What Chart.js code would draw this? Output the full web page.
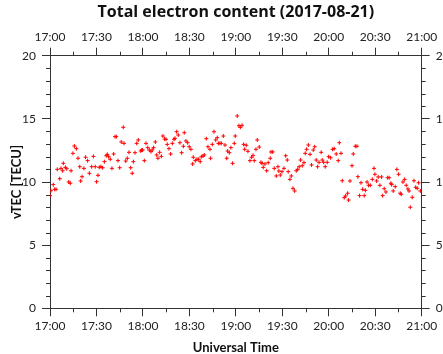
<!DOCTYPE html>
<html>
<head>
<meta charset="utf-8">
<script src="https://cdn.jsdelivr.net/npm/chart.js@4/dist/chart.umd.min.js"></script>
<style>
html,body{margin:0;padding:0;background:#fff;overflow:hidden}
#wrap{width:443px;height:354px;position:relative}
</style>
</head>
<body>
<div id="wrap"><canvas id="c" width="443" height="354"></canvas></div>
<script>
// minutes after 17:00 UT
const minutesAfter17 = [
0,0.6,2.1,3.0,3.9,4.7,6.3,7.1,8.2,8.6,
9.9,10.8,12.1,13.1,13.6,14.8,15.7,17.0,18.1,19.2,
19.8,20.7,21.9,23.0,24.3,25.4,26.9,28.0,29.2,30.1,
31.0,31.8,32.9,34.0,35.1,36.3,37.0,37.9,38.9,40.0,
41.1,42.0,42.8,43.9,45.0,46.0,47.3,47.8,48.9,49.9,
51.0,52.1,53.1,53.8,54.9,56.0,57.0,58.6,59.2,59.8,
60.9,62.0,63.1,64.1,65.2,66.0,66.9,68.0,68.9,69.7,
70.8,71.9,72.9,74.0,74.9,75.7,76.8,77.9,79.0,80.1,
80.7,81.8,82.8,83.9,85.0,86.1,86.7,87.8,88.9,89.9,
91.0,92.1,92.5,93.8,94.9,96.0,97.0,97.7,98.8,99.6,
100.9,102.0,103.3,103.7,104.8,105.9,107.0,108.0,108.7,109.7,
110.6,111.9,113.0,114.1,114.7,115.8,116.8,117.9,119.0,119.6,
120.9,122.0,122.9,124.0,125.0,125.7,126.7,127.8,129.1,130.2,
131.1,131.9,133.0,133.8,135.1,136.2,136.9,137.7,138.8,139.9,
140.9,142.2,142.7,143.8,144.8,146.1,147.2,147.8,148.7,149.8,
151.1,152.2,153.2,153.8,154.9,155.8,156.9,158.0,159.0,159.9,
160.9,161.8,162.9,164.0,164.8,165.7,166.8,167.9,168.9,170.0,
170.9,171.9,172.8,173.7,175.1,175.8,176.7,177.7,179.0,179.9,
181.2,182.5,183.5,184.8,186.1,186.8,187.9,188.7,190.0,190.9,
192.2,192.8,193.7,195.0,195.8,197.1,198.2,198.8,199.9,200.8,
201.9,202.9,203.6,204.7,205.7,206.8,208.1,209.2,209.8,210.9,
211.9,213.0,214.1,214.8,215.8,216.9,218.0,219.0,220.1,220.6,
221.6,222.9,224.0,225.1,226.1,226.8,227.9,229.0,230.0,231.1,
231.8,232.6,233.9,235.0,236.1,237.1,238.0,239.1
];
// vertical TEC [TECU]
const vtec = [
8.92,9.31,9.79,9.42,9.42,11.0,10.26,11.08,10.89,11.48,
11.16,11.05,10.0,9.90,10.89,12.27,12.85,12.64,11.88,11.21,
10.08,10.42,11.08,11.96,11.69,10.69,11.21,12.03,11.21,10.02,
10.53,11.16,11.21,11.13,11.61,12.08,12.19,12.0,11.80,11.08,
12.22,13.59,13.59,11.69,11.13,13.17,14.33,13.06,11.66,11.88,
12.35,11.13,10.69,11.61,12.32,13.06,13.33,12.45,12.53,12.53,
11.69,13.06,12.72,12.53,12.40,12.53,12.72,13.17,12.14,11.88,
12.35,12.03,13.64,13.40,13.38,12.98,12.64,12.22,13.06,13.38,
13.46,13.98,13.72,13.11,12.32,12.83,13.90,13.25,13.11,12.79,
12.59,11.43,11.96,11.69,11.80,11.80,11.61,12.0,12.06,12.14,
13.43,12.79,12.59,11.88,12.98,13.98,13.33,13.51,13.06,13.06,
13.06,13.64,12.93,11.88,12.45,12.32,12.72,11.48,13.06,13.64,
15.23,14.46,14.33,14.49,12.98,12.59,12.91,12.43,11.69,11.96,
12.11,11.69,12.59,13.33,12.77,11.56,11.48,11.16,11.43,10.89,
11.53,11.88,12.38,12.38,11.08,10.48,11.21,10.87,10.55,10.82,
11.08,12.08,11.74,10.82,10.21,10.48,9.50,9.29,10.89,11.0,
11.21,11.74,11.29,11.53,12.27,12.59,12.93,12.19,11.35,12.53,
12.79,11.74,11.21,11.56,12.35,11.74,11.56,11.21,11.56,12.0,
11.92,12.59,12.64,12.22,11.69,13.11,12.27,10.10,8.76,8.89,
9.11,8.57,10.08,11.29,12.22,12.83,12.83,10.42,8.92,9.94,
9.42,8.92,9.34,10.0,9.74,9.74,10.21,11.08,10.61,10.08,
10.40,9.74,10.40,8.92,9.47,9.21,10.34,10.34,9.90,9.79,
9.29,9.63,11.0,10.61,9.11,9.03,10.0,10.21,9.74,9.45,
9.29,8.0,8.79,10.10,9.58,9.50,9.94,9.29
];
const startHour = 17;
const timeRange = [0, 240];
const timeStep = 30;
const yRange = [0, 20];
const yStep = 5;
const titleText = 'Total electron content (2017-08-21)';
const xTitle = 'Universal Time';
const yTitle = 'vTEC [TECU]';

const FONT = 'Lato, "Open Sans", sans-serif';
const AX = '#333';

function fmt(v){
  const h = startHour + Math.floor(v/60);
  const m = Math.round(v%60);
  return h + ':' + String(m).padStart(2,'0');
}

const points = minutesAfter17.map((t,i)=>({x:t, y:vtec[i]}));

const minorTicks = {
  id:'minorTicks',
  afterDraw(chart){
    const ctx = chart.ctx;
    ctx.save();
    ctx.strokeStyle = AX;
    ctx.lineWidth = 1;
    const L = 4;
    ['x','x2'].forEach(id=>{
      const s = chart.scales[id];
      for(let v=timeRange[0]+timeStep/2; v<timeRange[1]; v+=timeStep){
        const px = Math.round(s.getPixelForValue(v))+0.5;
        ctx.beginPath();
        if(id==='x'){ctx.moveTo(px,s.top);ctx.lineTo(px,s.top+L);}
        else {ctx.moveTo(px,s.bottom);ctx.lineTo(px,s.bottom-L);}
        ctx.stroke();
      }
    });
    ['y','y2'].forEach(id=>{
      const s = chart.scales[id];
      for(let v=yRange[0]+1; v<yRange[1]; v++){
        if(v%yStep===0) continue;
        const py = Math.round(s.getPixelForValue(v))+0.5;
        ctx.beginPath();
        if(id==='y'){ctx.moveTo(s.right,py);ctx.lineTo(s.right-L,py);}
        else {ctx.moveTo(s.left,py);ctx.lineTo(s.left+L,py);}
        ctx.stroke();
      }
    });
    ctx.restore();
  }
};

function xAxis(pos, showTitle){
  return {
    type:'linear', position:pos, min:timeRange[0], max:timeRange[1],
    grid:{drawOnChartArea:false, drawTicks:true, tickLength:8, color:AX, lineWidth:1},
    border:{display:true, color:AX, width:1},
    ticks:{stepSize:timeStep, callback:fmt, color:'#222', padding:3, maxRotation:0, autoSkip:false,
      font:{family:FONT, size:12}},
    title:{display:showTitle, text:xTitle, color:'#111', padding:{top:0,bottom:0},
      font:{family:FONT, size:13, weight:'bold', lineHeight:1}},
  };
}
function yAxis(pos, showTitle){
  return {
    type:'linear', position:pos, min:yRange[0], max:yRange[1],
    grid:{drawOnChartArea:false, drawTicks:true, tickLength:8, color:AX, lineWidth:1},
    border:{display:true, color:AX, width:1},
    ticks:{stepSize:yStep, color:'#222', padding:6, font:{family:FONT, size:12}},
    title:{display:showTitle, text:yTitle, color:'#111', padding:{top:10,bottom:0},
      font:{family:FONT, size:13, weight:'bold', lineHeight:1}},
  };
}

const sx = xAxis('bottom', true);  sx.afterFit = s => { s.height = 45.7; };
const sx2 = xAxis('top', false);   sx2.afterFit = s => { s.height = 33.5; };
const sy = yAxis('left', true);    sy.afterFit = s => { s.width = 50; };
const sy2 = yAxis('right', false); sy2.afterFit = s => { s.width = 21.3; };

new Chart(document.getElementById('c'), {
  type:'scatter',
  data:{datasets:[{
    data:points,
    pointStyle:'cross', pointRadius:2, pointBorderWidth:1,
    borderColor:'#ff0000', backgroundColor:'#ff0000', showLine:false
  }]},
  options:{
    responsive:false, animation:false,
    layout:{padding:0},
    plugins:{
      legend:{display:false}, tooltip:{enabled:false},
      title:{display:true, fullSize:false, text:titleText, color:'#111', padding:{top:3,bottom:0},
        font:{family:'"Open Sans", Lato, sans-serif', size:16, weight:'bold'}}
    },
    scales:{x:sx, x2:sx2, y:sy, y2:sy2}
  },
  plugins:[minorTicks]
});
</script>
</body>
</html>
